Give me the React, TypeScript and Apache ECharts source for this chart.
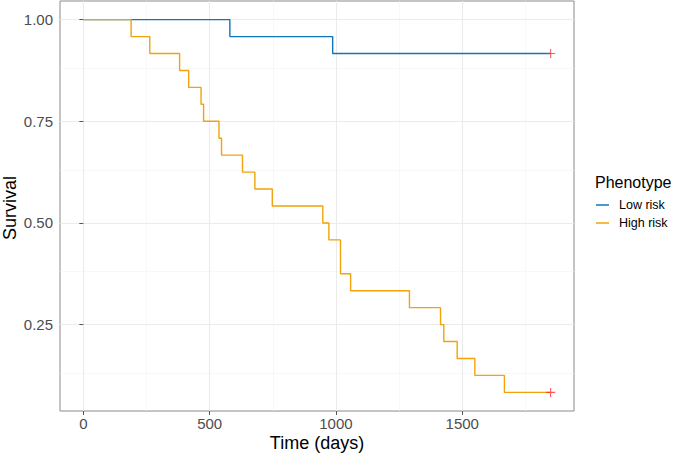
import React, { useEffect, useRef } from "react";
import * as echarts from "echarts";

const lowTimes = [0, 580, 987, 1850];
const lowSurv = [1.0, 0.9583, 0.9167, 0.9167];

const highTimes = [0, 189, 263, 381, 417, 466, 476, 537, 547, 630, 679, 748, 948, 972, 1018, 1058, 1291, 1414, 1427, 1480, 1550, 1667, 1850];
const highSurv = [1.0, 0.9583, 0.9167, 0.875, 0.8333, 0.7917, 0.75, 0.7083, 0.6667, 0.625, 0.5833, 0.5417, 0.5, 0.4583, 0.375, 0.3333, 0.2917, 0.25, 0.2083, 0.1667, 0.125, 0.0833, 0.0833];

const censorTimes = [1850, 1850];
const censorSurv = [0.9167, 0.0833];

const xTicks = [0, 500, 1000, 1500];
const xMinor = [250, 750, 1250, 1750];
const yTicks = [0.25, 0.5, 0.75, 1.0];
const yMinor = [0.125, 0.375, 0.625, 0.875];

const seriesNames = ["Low risk", "High risk"];
const colors = ["#0E76BB", "#F0A30A"];

const FONT = "Liberation Sans, Arial, Helvetica, sans-serif";

export default function App() {
  const ref = useRef<HTMLDivElement>(null);
  useEffect(() => {
    if (!ref.current) return;
    const chart = echarts.init(ref.current, undefined, { renderer: "svg" });
    const gridLine = (axis: "xAxis" | "yAxis", v: number, major: boolean) => ({
      [axis]: v,
      lineStyle: { color: major ? "#ebebeb" : "#f3f3f3", width: major ? 1.1 : 0.6, type: "solid" },
    });
    const option: any = {
      animation: false,
      grid: {
        left: 60,
        right: 101,
        top: 1,
        bottom: 43,
        show: true,
        borderColor: "#8a8a8a",
        borderWidth: 1,
        backgroundColor: "#ffffff",
      },
      xAxis: {
        type: "value",
        min: -92.5,
        max: 1942.5,
        splitLine: { show: false },
        axisLine: { show: false },
        axisTick: { show: true, customValues: xTicks, length: 4, lineStyle: { color: "#555" } },
        axisLabel: {
          customValues: xTicks,
          color: "#4d4d4d",
          fontSize: 15,
          fontFamily: FONT,
          margin: 5,
          formatter: (v: number) => String(v),
        },
      },
      yAxis: {
        type: "value",
        min: 0.0375,
        max: 1.0458,
        splitLine: { show: false },
        axisLine: { show: false },
        axisTick: { show: true, customValues: yTicks, length: 4, lineStyle: { color: "#555" } },
        axisLabel: {
          customValues: yTicks,
          color: "#4d4d4d",
          fontSize: 15,
          fontFamily: FONT,
          margin: 7,
          formatter: (v: number) => v.toFixed(2),
        },
      },
      legend: {
        orient: "vertical",
        left: 596,
        top: 196,
        padding: 0,
        itemGap: 0,
        itemWidth: 13,
        itemHeight: 1.5,
        icon: "rect",
        data: seriesNames,
        textStyle: { fontSize: 12.5, fontFamily: FONT, color: "#000", lineHeight: 18, padding: [0, 0, 0, 5] },
      },
      graphic: [
        {
          type: "text",
          left: 595,
          top: 174,
          style: { text: "Phenotype", font: `16px ${FONT}`, fill: "#000" },
        },
        {
          type: "text",
          x: 317,
          y: 443,
          style: { text: "Time (days)", font: `18px ${FONT}`, fill: "#000", align: "center", verticalAlign: "middle" },
        },
        {
          type: "text",
          x: 10,
          y: 208,
          rotation: Math.PI / 2,
          style: { text: "Survival", font: `18px ${FONT}`, fill: "#000", align: "center", verticalAlign: "middle" },
        },
      ],
      series: [
        {
          type: "line",
          name: "grid",
          data: [],
          silent: true,
          z: 0,
          markLine: {
            silent: true,
            z: 0,
            symbol: "none",
            label: { show: false },
            animation: false,
            data: [
              ...xMinor.map((v) => gridLine("xAxis", v, false)),
              ...yMinor.map((v) => gridLine("yAxis", v, false)),
              ...xTicks.map((v) => gridLine("xAxis", v, true)),
              ...yTicks.map((v) => gridLine("yAxis", v, true)),
            ],
          },
        },
        {
          type: "line",
          name: seriesNames[0],
          step: "end",
          showSymbol: false,
          color: colors[0],
          lineStyle: { width: 1.4, color: colors[0] },
          data: lowTimes.map((t, i) => [t, lowSurv[i]]),
          z: 6,
        },
        {
          type: "line",
          name: seriesNames[1],
          step: "end",
          showSymbol: false,
          color: colors[1],
          lineStyle: { width: 1.4, color: colors[1] },
          data: highTimes.map((t, i) => [t, highSurv[i]]),
          z: 6,
        },
        {
          type: "scatter",
          name: "censor",
          symbol: "path://M4.4,0h1.2v4.4h4.4v1.2h-4.4v4.4h-1.2v-4.4h-4.4v-1.2h4.4z",
          symbolSize: 9,
          itemStyle: { color: "#ff3030" },
          data: censorTimes.map((t, i) => [t, censorSurv[i]]),
          z: 7,
        },
      ],
    };
    chart.setOption(option);
    return () => chart.dispose();
  }, []);
  return <div ref={ref} style={{ width: 675, height: 454, position: "absolute", left: 0, top: 0 }} />;
}
